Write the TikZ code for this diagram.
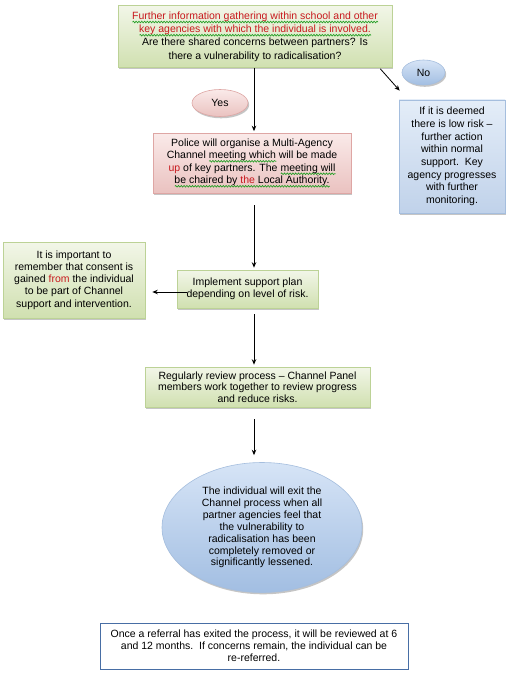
\documentclass[tikz,border=0pt]{standalone}
\usepackage{fontspec}
\setmainfont{Liberation Sans}
\usetikzlibrary{arrows.meta,shapes.geometric,shadows,calc,decorations.pathmorphing}
\definecolor{sqg}{RGB}{40,160,40}
\definecolor{txtred}{RGB}{200,25,30}
\definecolor{gtop}{RGB}{242,246,232}
\definecolor{gbot}{RGB}{208,224,176}
\definecolor{gline}{RGB}{188,210,150}
\definecolor{ptop}{RGB}{250,234,233}
\definecolor{pbot}{RGB}{234,194,192}
\definecolor{pline}{RGB}{222,166,164}
\definecolor{btop}{RGB}{228,237,248}
\definecolor{bbot}{RGB}{192,210,234}
\definecolor{bline}{RGB}{165,190,222}
\definecolor{etop}{RGB}{214,228,246}
\definecolor{ebot}{RGB}{162,190,226}
\definecolor{frame}{RGB}{72,110,165}
\newlength\sqlen
\newcommand\sqw[1]{\settowidth\sqlen{#1}\rlap{\tikz[x=1pt,y=1pt,baseline=0pt]\draw[sqg,line width=0.7pt,decorate,decoration={snake,amplitude=0.8pt,segment length=2.8pt}] (0,-2.6) -- (\the\sqlen,-2.6);}#1}
\newcommand\rd[1]{{\color{txtred}#1}}
\begin{document}
\begin{tikzpicture}[x=1pt,y=-1pt,
  font=\fontsize{10.5}{12.2}\selectfont,
  shade/.style={drop shadow={shadow xshift=1.2pt,shadow yshift=-1.8pt,fill=black!50,opacity=0.45}},
  box/.style={draw, line width=0.6pt, align=center, inner sep=1pt, shade},
  gbox/.style={box, draw=gline, top color=gtop, bottom color=gbot},
  pbox/.style={box, draw=pline, top color=ptop, bottom color=pbot},
  bbox/.style={box, draw=bline, top color=btop, bottom color=bbot},
  oval/.style={ellipse, draw=bline, line width=0.6pt, align=center, inner sep=0pt, shade},
  arr/.style={-{Stealth[length=5.5pt,width=4.5pt]}, line width=0.8pt, black}]
\useasboundingbox (0,0) rectangle (512,682);
\fill[white] (0,0) rectangle (512,682);
\coordinate (spine) at (254,0);

\node[gbox, minimum width=274pt, minimum height=62pt, font=\fontsize{10.5}{13.2}\selectfont] (top) at (255,36.5)
 {\rd{\sqw{Further information gathering within school and other}}\\
  \rd{\sqw{key agencies with which the individual is involved.}}\\
  Are there shared concerns between partners? Is\\
  there a vulnerability to radicalisation?};

\node[oval, top color=etop, bottom color=ebot, minimum width=43pt, minimum height=25pt] (no) at (423.5,72.5) {No};
\node[oval, draw=pline, top color=ptop, bottom color=pbot, minimum width=56pt, minimum height=27pt] (yes) at (220,103) {Yes};

\node[bbox, minimum width=106pt, minimum height=113pt, font=\fontsize{10.5}{12.7}\selectfont] (blue) at (452,156.5)
 {If it is deemed\\ there is low risk --\\ further action\\ within normal\\ support.\ \ Key\\ agency progresses\\ with further\\ monitoring.};

\node[pbox, minimum width=198pt, minimum height=60pt, font=\fontsize{10.5}{12.5}\selectfont] (police) at (252,163)
 {Police will organise a Multi-Agency\\
  Channel \sqw{meeting which} will be made\\
  \rd{up} of key partners. The \sqw{meeting will}\\
  \sqw{be chaired by \rd{the} Local Authority.}};

\node[gbox, minimum width=142pt, minimum height=76pt, font=\fontsize{10.5}{12.2}\selectfont] (left) at (74,280)
 {It is important to\\ remember that consent is\\ gained \rd{from} the individual\\ to be part of Channel\\ support and intervention.};

\node[gbox, minimum width=141pt, minimum height=38pt] (impl) at (247.5,289)
 {Implement support plan\\ depending on level of risk.};

\node[gbox, minimum width=225pt, minimum height=40pt, font=\fontsize{10.5}{11.6}\selectfont] (review) at (257.5,387)
 {Regularly review process -- Channel Panel\\ members work together to review progress\\ and reduce risks.};

\node[oval, top color=etop, bottom color=ebot, minimum width=200pt, minimum height=130pt, font=\fontsize{10.5}{11.9}\selectfont] (exit) at (262,527.5)
 {The individual will exit the\\ Channel process when all\\ partner agencies feel that\\ the vulnerability to\\ radicalisation has been\\ completely removed or\\ significantly lessened.};

\node[draw=frame, line width=0.8pt, fill=white, align=center, minimum width=308pt, minimum height=46pt, inner sep=1pt, font=\fontsize{10.5}{12}\selectfont] (final) at (254,646)
 {Once a referral has exited the process, it will be reviewed at 6\\
  and 12 months.\ \ If concerns remain, the individual can be\\
  re-referred.};

\draw[arr, shorten >=1.5pt] (top.south -| spine) -- (police.north -| spine);
\draw[arr] ($(top.south east)+(-12,1)$) -- ($(blue.north west)+(1,-9)$);
\draw[arr] ($(police.south -| spine)+(0,12)$) -- ($(impl.north -| spine)+(0,-2)$);
\draw[arr] ($(impl.west)+(10,3)$) -- ($(left.east |- impl.west)+(7,3)$);
\draw[arr] ($(impl.south -| spine)+(0,6)$) -- ($(review.north -| spine)+(0,-2)$);
\draw[arr] ($(review.south -| spine)+(0,12)$) -- ($(exit.north -| spine)+(0,-7)$);
\end{tikzpicture}
\end{document}
